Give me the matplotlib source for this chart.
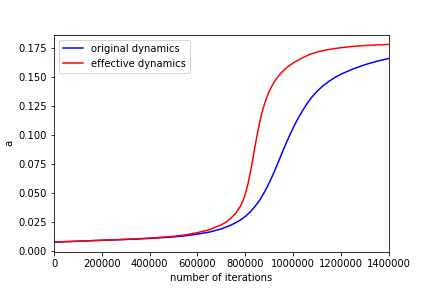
import matplotlib
matplotlib.use('Agg')
import matplotlib.pyplot as plt
from matplotlib.ticker import ScalarFormatter

# values
iters_orig = [0, 50000, 100000, 150000, 200000, 250000, 300000, 350000, 400000,
              450000, 500000, 550000, 600000, 650000, 700000, 725000, 750000,
              775000, 800000, 820000, 840000, 860000, 880000, 900000, 920000,
              940000, 960000, 980000, 1000000, 1020000, 1040000, 1060000,
              1080000, 1100000, 1125000, 1150000, 1175000, 1200000, 1250000,
              1300000, 1350000, 1400000]
a_orig = [0.0078, 0.0082, 0.0086, 0.0090, 0.0094, 0.0097, 0.0101, 0.0105, 0.0110,
          0.0116, 0.0123, 0.0133, 0.0147, 0.0165, 0.0192, 0.0212, 0.0235,
          0.0263, 0.0300, 0.0338, 0.0385, 0.0440, 0.0510, 0.0590, 0.0680,
          0.0780, 0.0880, 0.0975, 0.1065, 0.1145, 0.1215, 0.1280,
          0.1335, 0.1380, 0.1428, 0.1467, 0.1500, 0.1528, 0.1573,
          0.1610, 0.1640, 0.1664]

iters_eff = [0, 50000, 100000, 150000, 200000, 250000, 300000, 350000, 400000,
             450000, 500000, 550000, 600000, 650000, 700000, 720000, 740000,
             760000, 780000, 795000, 810000, 820000, 830000, 840000, 850000,
             860000, 870000, 880000, 890000, 900000, 915000, 930000, 950000,
             970000, 1000000, 1030000, 1070000, 1110000, 1150000, 1200000,
             1250000, 1300000, 1350000, 1400000]
a_eff = [0.0078, 0.0082, 0.0086, 0.0090, 0.0094, 0.0098, 0.0102, 0.0107, 0.0113,
         0.0120, 0.0128, 0.0141, 0.0160, 0.0185, 0.0228, 0.0252, 0.0285,
         0.0328, 0.0390, 0.0460, 0.0570, 0.0670, 0.0780, 0.0900, 0.1010,
         0.1110, 0.1200, 0.1270, 0.1330, 0.1380, 0.1440, 0.1490, 0.1540,
         0.1580, 0.1625, 0.1660, 0.1700, 0.1725, 0.1742, 0.1757,
         0.1768, 0.1776, 0.1781, 0.1785]

fig = plt.figure(figsize=(6, 4), dpi=72)
ax = fig.add_subplot(111)
fig.subplots_adjust(left=0.125, right=0.9, top=0.88, bottom=0.125)

ax.plot(iters_orig, a_orig, 'b-', label='original dynamics')
ax.plot(iters_eff, a_eff, 'r-', label='effective dynamics')

ax.set_xlim(0, 1400000)
fmt = ScalarFormatter(useOffset=False)
fmt.set_scientific(False)
ax.xaxis.set_major_formatter(fmt)

ax.set_xlabel('number of iterations')
ax.set_ylabel('a')
ax.legend(loc='upper left')

fig.savefig('out.png', dpi=72)
